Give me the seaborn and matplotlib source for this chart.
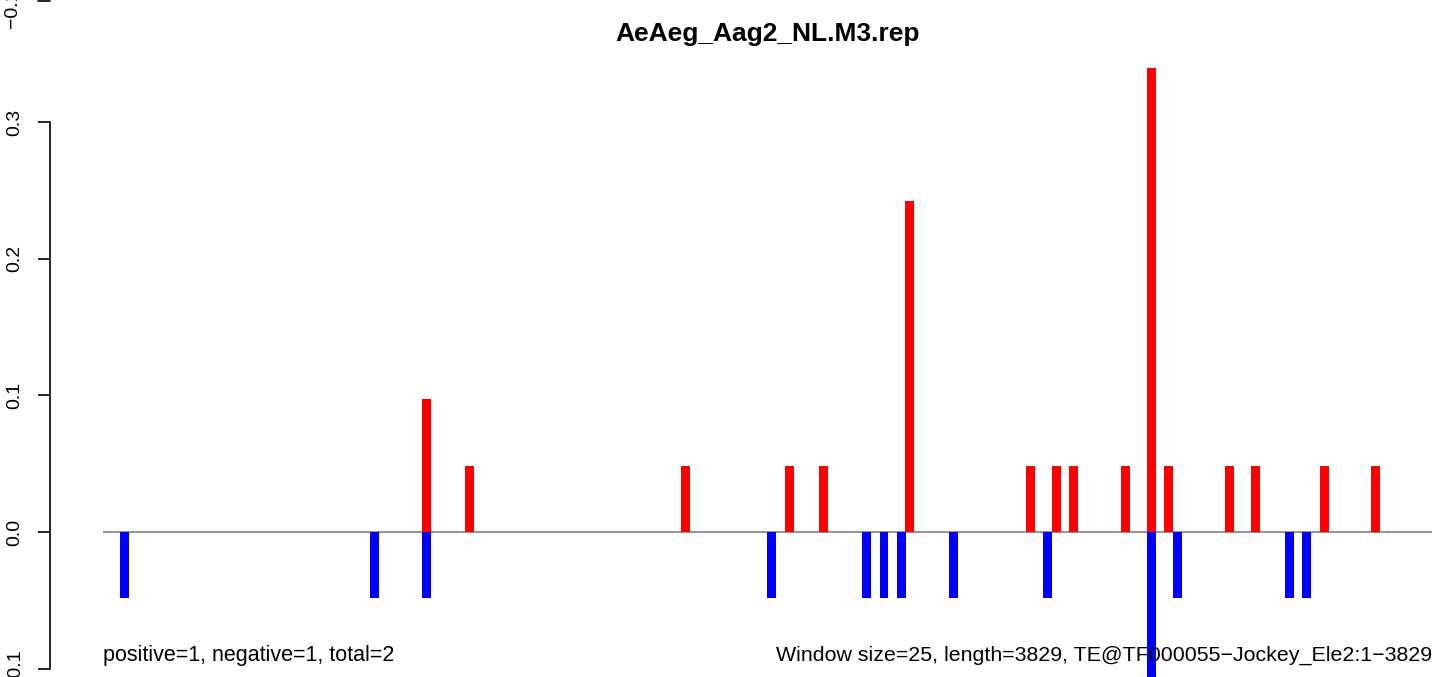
import numpy as np
import pandas as pd
import seaborn as sns
import matplotlib.pyplot as plt

# window index (25 nt windows over 3829 nt -> 154 windows)
n_windows = 154
red_idx = [37, 42, 67, 79, 83, 93, 107, 110, 112, 118, 121, 123, 130, 133, 141, 147]
red_vals = [0.097, 0.0485, 0.0485, 0.0485, 0.0485, 0.2425, 0.0485, 0.0485, 0.0485,
            0.0485, 0.3395, 0.0485, 0.0485, 0.0485, 0.0485, 0.0485]
blue_idx = [2, 31, 37, 77, 88, 90, 92, 98, 109, 121, 124, 137, 139]
blue_vals = [-0.0485, -0.0485, -0.0485, -0.0485, -0.0485, -0.0485, -0.0485, -0.0485,
             -0.0485, -0.1455, -0.0485, -0.0485, -0.0485]
ytick_vals = [-0.1, 0.0, 0.1, 0.2, 0.3]
ytick_labels = ["\u22120.1", "0.0", "0.1", "0.2", "0.3"]

title = "AeAeg_Aag2_NL.M3.rep"
left_note = "positive=1, negative=1, total=2"
right_note = "Window size=25, length=3829, TE@TF000055\u2212Jockey_Ele2:1\u22123829"

sns.set_theme(style="white")
plt.rcParams['font.family'] = ['Liberation Sans', 'DejaVu Sans']
plt.rcParams['text.color'] = 'black'
plt.rcParams['ytick.color'] = 'black'
plt.rcParams['ytick.labelcolor'] = 'black'

windows = np.arange(n_windows)
pos = np.zeros(n_windows)
neg = np.zeros(n_windows)
pos[red_idx] = red_vals
neg[blue_idx] = blue_vals
df = pd.DataFrame({"window": windows, "pos": pos, "neg": neg})

W, H = 1439, 677
fig = plt.figure(figsize=(W / 100, H / 100), dpi=100)
ax = fig.add_axes([103 / W, 0, 1329 / W, 1])

ax.axhline(0, color="#808080", lw=1.2, zorder=0)
sns.barplot(data=df, x="window", y="pos", color="red", saturation=1, width=1.04,
            errorbar=None, linewidth=0, ax=ax, zorder=2)
sns.barplot(data=df, x="window", y="neg", color="blue", saturation=1, width=1.04,
            errorbar=None, linewidth=0, ax=ax, zorder=2)

# pixel mapping: 0 at y=532, 0.1 per 136.67 px
scale = 1366.7
ax.set_ylim(-(H - 532) / scale, 532 / scale)
ax.set_xlim(-0.5, n_windows - 0.5)

for s in ["top", "right", "bottom"]:
    ax.spines[s].set_visible(False)
ax.spines["left"].set_position(("outward", 38))
ax.spines["left"].set_bounds(-0.1, 0.3)
ax.spines["left"].set_color("black")
ax.spines["left"].set_linewidth(1.2)
ax.patch.set_alpha(0)

ax.set_xticks([])
ax.set_xlabel("")
ax.set_ylabel("")
ax.set_yticks(ytick_vals)
ax.set_yticklabels(ytick_labels)
ax.tick_params(axis="y", left=True, length=8.6, width=1.2, pad=10.5, colors="black",
               labelsize=14, labelrotation=90)
for lab in ax.get_yticklabels():
    lab.set_va("center")

# stray tick at the very top edge
fig.add_artist(plt.Line2D([38 / W, 50 / W], [1 - 0.5 / H, 1 - 0.5 / H], color="black", lw=1.2))
fig.text(21 / W, 1 - 28 / H, "\u22120.1", rotation=90, ha="right", va="bottom", fontsize=14)

fig.text(768 / W, 1 - 41 / H, title, ha="center", va="baseline", fontsize=19, fontweight="bold")
fig.text(103 / W, 1 - 661 / H, left_note, ha="left", va="baseline", fontsize=15.5)
fig.text(1432 / W, 1 - 661 / H, right_note, ha="right", va="baseline", fontsize=15.4)

fig.savefig("out.png", dpi=100, facecolor="white")
